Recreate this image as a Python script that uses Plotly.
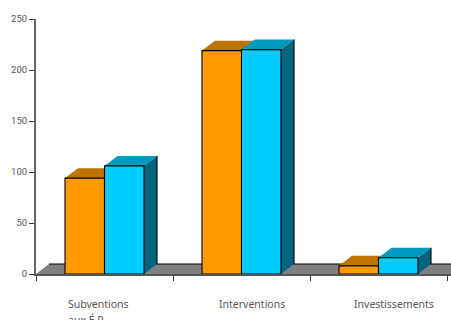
import plotly.graph_objects as go

# Budget lines and their two series
categories = ["Subventions<br>aux É.P.", "Interventions", "Investissements"]
orange_values = [94, 219, 8]
blue_values = [106, 220, 16]
y_ticks = [0, 50, 100, 150, 200, 250]

WIDTH, HEIGHT = 451, 320
LEFT, TOP, BOTTOM = 36, 18.5, 46.3
CAT_PX = 137
BAR_W = 39.5 / CAT_PX
DX = 13 / CAT_PX            # oblique depth along x, in category units
DY = 10 * 250 / 255.2       # oblique depth along y, in value units
X_MAX = (WIDTH - LEFT) / CAT_PX
LABEL_OFFSET = [0.222, 1.322, 2.308]
TEXT = "#555555"
EDGE = 1.1


def box_faces(values, left_shift, top_col, side_col, xa, ya):
    """Bar front plus its oblique top and side faces for one series."""
    centers = [i + 0.5 for i in range(len(values))]
    xs = [c + left_shift for c in centers]
    out = [go.Bar(x=xs, y=values, width=BAR_W, marker=dict(color=side_col[0], line=dict(width=0)),
                  xaxis=xa, yaxis=ya, hoverinfo="y")]
    for x, v in zip(xs, values):
        x0, x1 = x - BAR_W / 2, x + BAR_W / 2
        out.append(go.Scatter(x=[x0, x0 + DX, x1 + DX, x1, x0], y=[v, v + DY, v + DY, v, v],
                              mode="lines", fill="toself", fillcolor=top_col, line=dict(width=0),
                              xaxis=xa, yaxis=ya, hoverinfo="skip"))
        out.append(go.Scatter(x=[x1, x1 + DX, x1 + DX, x1, x1], y=[v, v + DY, DY, 0, v],
                              mode="lines", fill="toself", fillcolor=side_col[1], line=dict(width=0),
                              xaxis=xa, yaxis=ya, hoverinfo="skip"))
        out.append(go.Scatter(x=[x1 + DX, x1 + DX], y=[DY, v + DY], mode="lines",
                              line=dict(color="black", width=EDGE), xaxis=xa, yaxis=ya, hoverinfo="skip"))
        # front outline drawn above the top and side faces
        out.append(go.Scatter(x=[x0, x1, x1, x0, x0], y=[0, 0, v, v, 0], mode="lines",
                              line=dict(color="black", width=EDGE), xaxis=xa, yaxis=ya, hoverinfo="skip"))
    return out


fig = go.Figure()
for tr in box_faces(orange_values, -BAR_W / 2, "#BF7300", ("#FF9900", "#BF7300"), "x", "y"):
    fig.add_trace(tr)
for tr in box_faces(blue_values, BAR_W / 2, "#0099BF", ("#00CCFF", "#006680"), "x2", "y2"):
    fig.add_trace(tr)

# Grey floor behind the bars
floor = f"M 0 0 L {DX} {DY} L {X_MAX} {DY} L {X_MAX} 0 Z"
fig.add_shape(type="path", path=floor, xref="x", yref="y", layer="below",
              fillcolor="#808080", line=dict(width=0))
fig.add_shape(type="line", x0=DX, x1=X_MAX, y0=DY, y1=DY, xref="x", yref="y", layer="below",
              line=dict(color="black", width=1))

# Larger annotation font sets the line pitch; the spans set the glyph size
for cat, x in zip(categories, LABEL_OFFSET):
    lines = [f'<span style="font-size:10.5px">{part}</span>' for part in cat.split("<br>")]
    fig.add_annotation(x=x, y=0, xref="x", yref="paper", yanchor="top", xanchor="left", align="left",
                       yshift=-21, text="<br>".join(lines), showarrow=False,
                       font=dict(family="Noto Sans", size=12, color=TEXT))

x_range = [0, X_MAX]
fig.update_layout(
    width=WIDTH, height=HEIGHT, showlegend=False, barmode="overlay",
    paper_bgcolor="white", plot_bgcolor="white",
    margin=dict(l=LEFT, r=0, t=TOP, b=BOTTOM, pad=0),
    xaxis=dict(range=x_range, tickvals=[0, 1, 2, 3], ticktext=["", "", "", ""], ticks="outside",
               ticklen=5, tickwidth=1, tickcolor="#333333", showgrid=False, zeroline=False,
               showline=True, linecolor="#555555", linewidth=1.5),
    yaxis=dict(range=[0, 250], tickvals=y_ticks, ticks="outside", ticklen=5, tickwidth=1,
               tickcolor="#333333", showgrid=False, zeroline=False, showline=True,
               linecolor="#666666", linewidth=2, tickfont=dict(family="Roboto", size=9.5, color=TEXT)),
    xaxis2=dict(range=x_range, overlaying="x", visible=False),
    yaxis2=dict(range=[0, 250], overlaying="y", visible=False),
)

fig.write_html("out.html")
